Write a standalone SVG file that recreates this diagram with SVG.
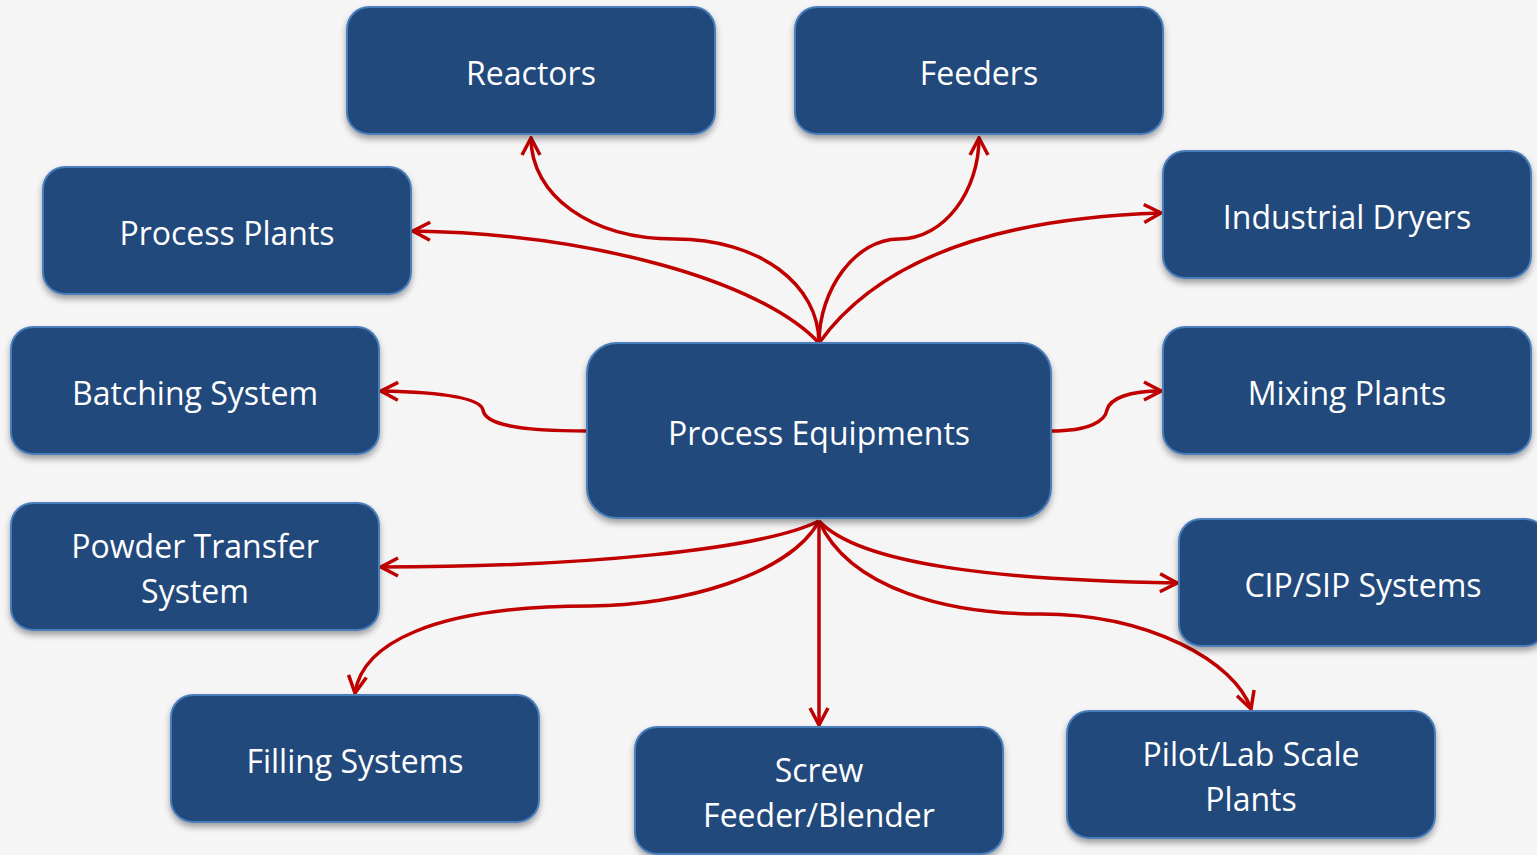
<svg xmlns="http://www.w3.org/2000/svg" width="1537" height="855" viewBox="0 0 1537 855">
<style>
.box{fill:#214a7c;stroke:#4a7ebb;stroke-width:2;filter:url(#sh)}
.lbl{fill:#ffffff;font-family:"Open Sans","Noto Sans",sans-serif;font-size:32px;text-anchor:middle;dominant-baseline:central}
.con{fill:none;stroke:#c00000;stroke-width:3.5;marker-end:url(#arr)}
</style>
<defs>
<filter id="sh" x="-10%" y="-10%" width="120%" height="130%">
<feDropShadow dx="0" dy="4" stdDeviation="3" flood-color="#000" flood-opacity="0.35"/>
</filter>
<marker id="arr" viewBox="0 0 22 22" refX="20" refY="11" markerWidth="22" markerHeight="22" markerUnits="userSpaceOnUse" orient="auto">
<path d="M3,2 L20,11 L3,20" fill="none" stroke="#c00000" stroke-width="3.5"/>
</marker>
</defs>
<rect width="1537" height="855" fill="#f5f5f5"/>
<g id="connectors">
<path class="con" d="M819,343 C819,285 760,239 675,239 C590,239 531,195 531,138"/>
<path class="con" d="M819,343 C819,290 855,239 899,239 C945,239 979,190 979,138"/>
<path class="con" d="M819,343 C760,280 590,234 413,231"/>
<path class="con" d="M819,343 C880,258 1000,218 1161,213"/>
<path class="con" d="M587,431 C520,431 485,425 483,410 C480,396 430,392 381,391"/>
<path class="con" d="M1051,431 C1090,431 1105,421 1107,410 C1110,398 1130,391 1161,391"/>
<path class="con" d="M819,521 C760,550 580,567 381,567"/>
<path class="con" d="M819,521 C790,575 680,606 590,606 C430,606 362,645 355,693"/>
<path class="con" d="M819,521 L819,725"/>
<path class="con" d="M819,521 C860,565 1000,580 1177,583"/>
<path class="con" d="M819,521 C850,590 950,614 1040,614 C1150,614 1235,662 1251,709"/>
</g>
<g id="n-reactors"><rect class="box" x="347" y="7" width="368" height="127" rx="22"/><text class="lbl" x="531" y="72">Reactors</text></g>
<g id="n-feeders"><rect class="box" x="795" y="7" width="368" height="127" rx="22"/><text class="lbl" x="979" y="72">Feeders</text></g>
<g id="n-process-plants"><rect class="box" x="43" y="167" width="368" height="127" rx="22"/><text class="lbl" x="227" y="232">Process Plants</text></g>
<g id="n-industrial-dryers"><rect class="box" x="1163" y="151" width="368" height="127" rx="22"/><text class="lbl" x="1347" y="216">Industrial Dryers</text></g>
<g id="n-batching"><rect class="box" x="11" y="327" width="368" height="127" rx="22"/><text class="lbl" x="195" y="392">Batching System</text></g>
<g id="n-process-equipments"><rect class="box" x="587" y="343" width="464" height="175" rx="30"/><text class="lbl" x="819" y="432">Process Equipments</text></g>
<g id="n-mixing"><rect class="box" x="1163" y="327" width="368" height="127" rx="22"/><text class="lbl" x="1347" y="392">Mixing Plants</text></g>
<g id="n-powder"><rect class="box" x="11" y="503" width="368" height="127" rx="22"/><text class="lbl" x="195" y="545">Powder Transfer</text><text class="lbl" x="195" y="590">System</text></g>
<g id="n-cip"><rect class="box" x="1179" y="519" width="368" height="127" rx="22"/><text class="lbl" x="1363" y="584">CIP/SIP Systems</text></g>
<g id="n-filling"><rect class="box" x="171" y="695" width="368" height="127" rx="22"/><text class="lbl" x="355" y="760">Filling Systems</text></g>
<g id="n-screw"><rect class="box" x="635" y="727" width="368" height="127" rx="22"/><text class="lbl" x="819" y="769">Screw</text><text class="lbl" x="819" y="814">Feeder/Blender</text></g>
<g id="n-pilot"><rect class="box" x="1067" y="711" width="368" height="127" rx="22"/><text class="lbl" x="1251" y="753">Pilot/Lab Scale</text><text class="lbl" x="1251" y="798">Plants</text></g>
</svg>
